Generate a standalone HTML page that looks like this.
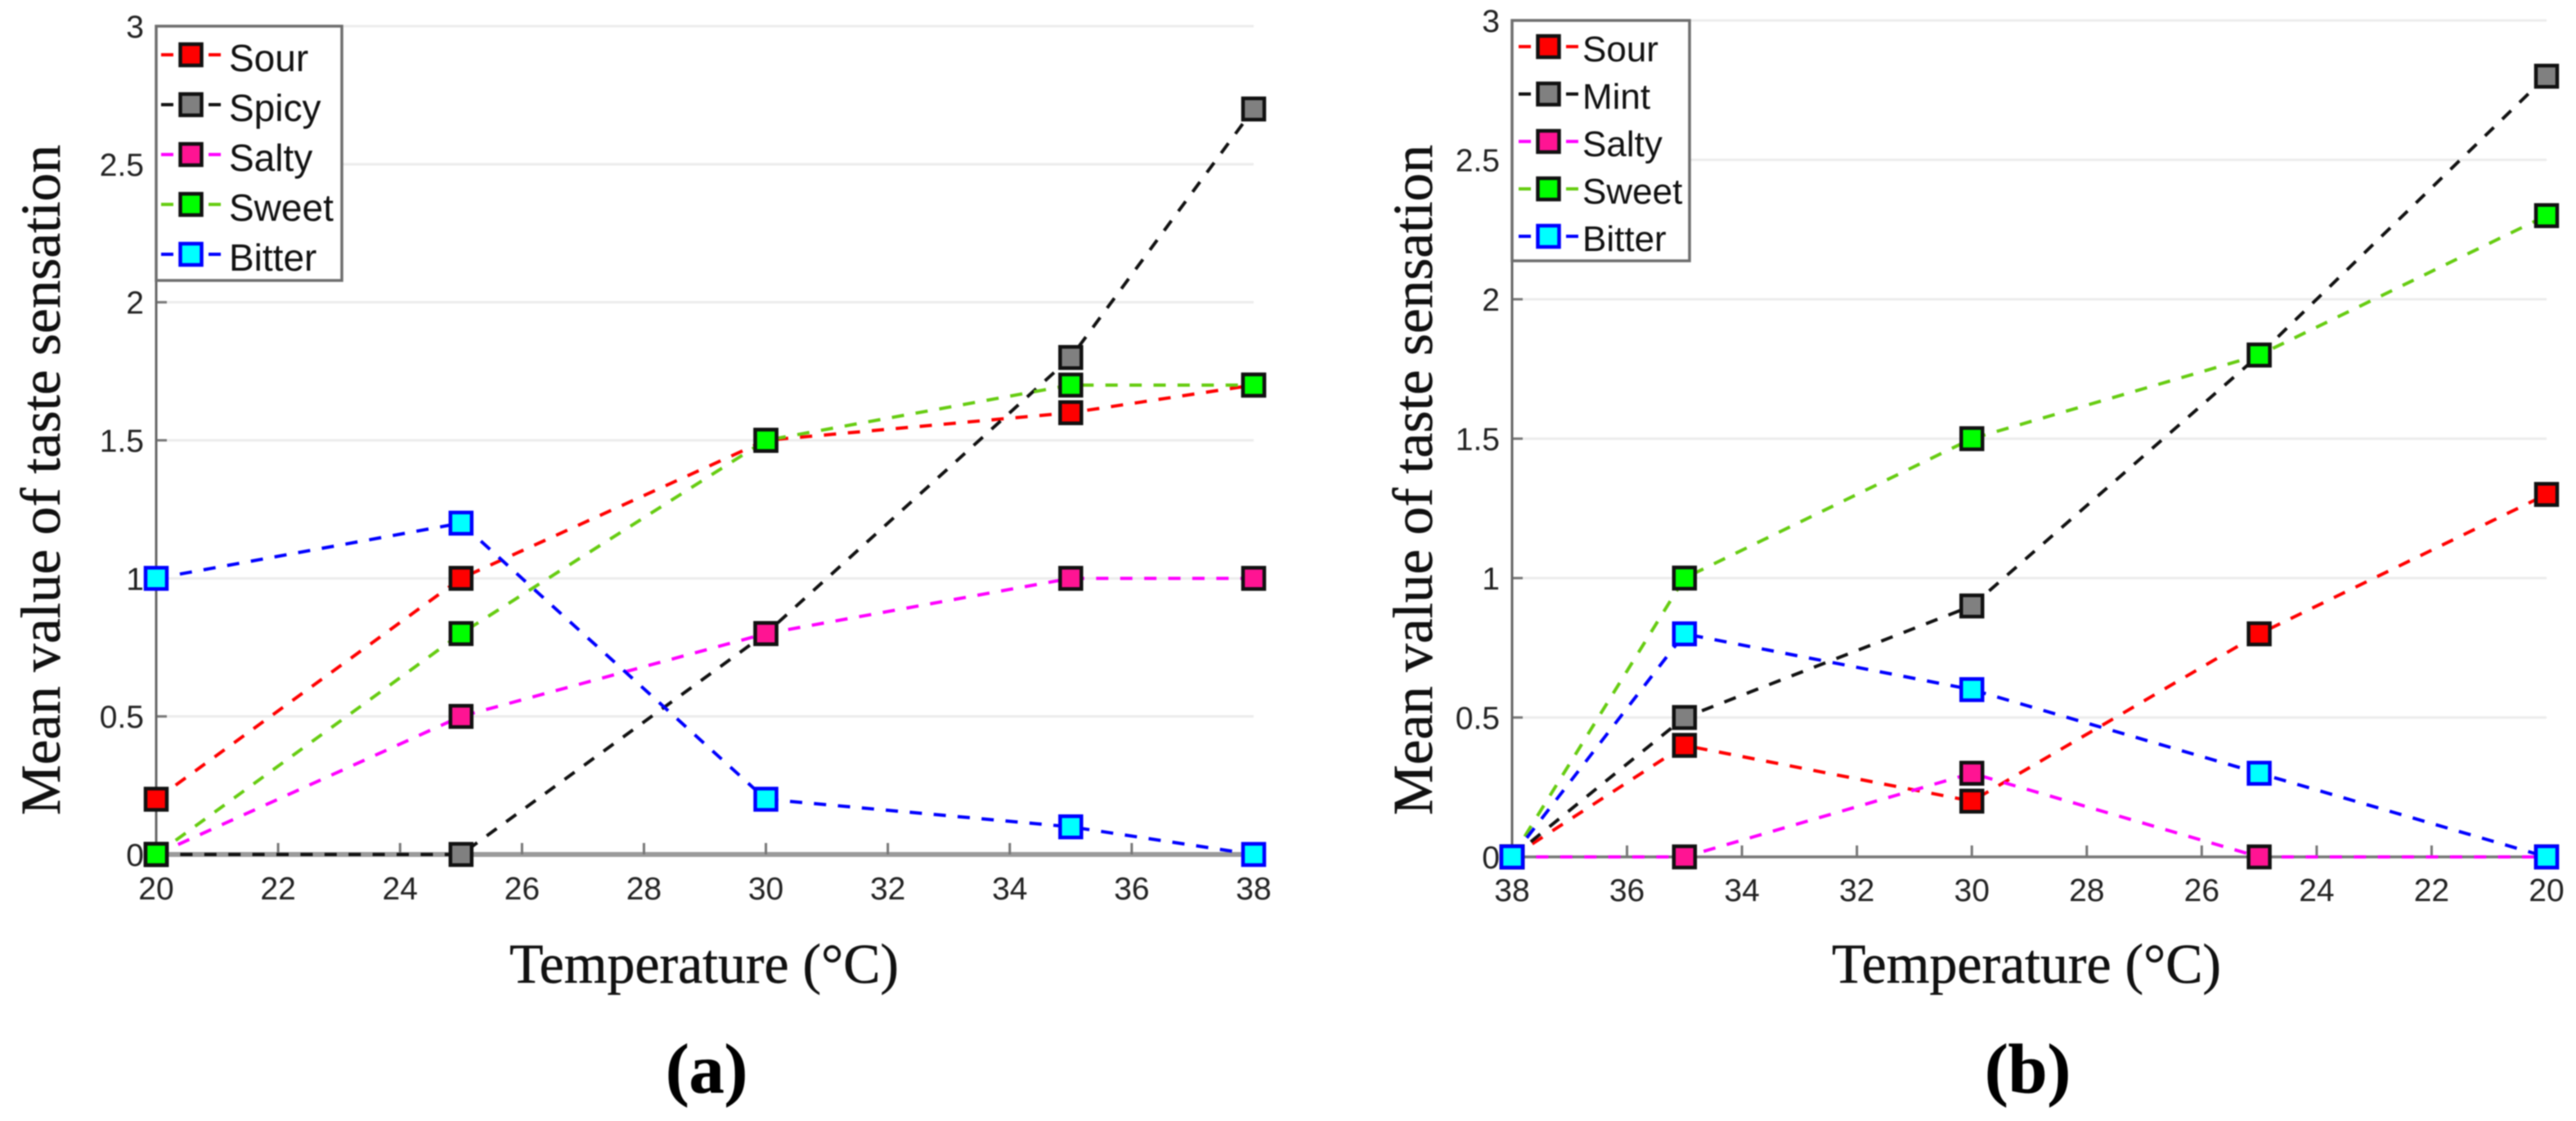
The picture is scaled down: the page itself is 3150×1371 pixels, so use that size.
<!DOCTYPE html>
<html lang="en">
<head>
<meta charset="utf-8">
<title>Mean value of taste sensation vs temperature</title>
<style>
html,body{margin:0;padding:0;background:#fff;}
body{width:3150px;height:1371px;overflow:hidden;}
svg{display:block;filter:blur(0.7px);}
.tick{font-family:"Liberation Sans",sans-serif;font-size:39px;fill:#222;}
.leg{font-family:"Liberation Sans",sans-serif;fill:#111;}
.title{font-family:"Liberation Serif",serif;font-size:69px;fill:#111;stroke:#111;stroke-width:0.5px;}
.panel{font-family:"Liberation Serif",serif;font-size:86px;font-weight:bold;fill:#000;stroke:#000;stroke-width:0.6px;}
</style>
</head>
<body>
<svg id="fig" xmlns="http://www.w3.org/2000/svg" width="3150" height="1371" viewBox="0 0 3150 1371">
  <rect x="0" y="0" width="3150" height="1371" fill="#fff"/>
  <g id="chartA"></g>
  <g id="chartB"></g>
  <text class="title" transform="translate(73,997) rotate(-90)" textLength="820" lengthAdjust="spacingAndGlyphs">Mean value of taste sensation</text>
  <text class="title" transform="translate(1751,997) rotate(-90)" textLength="820" lengthAdjust="spacingAndGlyphs">Mean value of taste sensation</text>
  <text class="title" x="623" y="1202" textLength="476" lengthAdjust="spacingAndGlyphs">Temperature (°C)</text>
  <text class="title" x="2240" y="1202" textLength="476" lengthAdjust="spacingAndGlyphs">Temperature (°C)</text>
  <text class="panel" x="814" y="1336">(a)</text>
  <text class="panel" x="2427" y="1336">(b)</text>
</svg>
<script>
// ---- data: chart (a) ----
const tempsA = [20, 25, 30, 35, 38];
const sourA = [0.2, 1, 1.5, 1.6, 1.7];
const spicyA = [0, 0, 0.8, 1.8, 2.7];
const saltyA = [0, 0.5, 0.8, 1, 1];
const sweetA = [0, 0.8, 1.5, 1.7, 1.7];
const bitterA = [1, 1.2, 0.2, 0.1, 0];
const namesA = ['Sour', 'Spicy', 'Salty', 'Sweet', 'Bitter'];
const xTickLabelsA = [20, 22, 24, 26, 28, 30, 32, 34, 36, 38];

// ---- data: chart (b) ----
const tempsB = [38, 35, 30, 25, 20];
const sourB = [0, 0.4, 0.2, 0.8, 1.3];
const mintB = [0, 0.5, 0.9, 1.8, 2.8];
const saltyB = [0, 0, 0.3, 0, 0];
const sweetB = [0, 1, 1.5, 1.8, 2.3];
const bitterB = [0, 0.8, 0.6, 0.3, 0];
const namesB = ['Sour', 'Mint', 'Salty', 'Sweet', 'Bitter'];
const xTickLabelsB = [38, 36, 34, 32, 30, 28, 26, 24, 22, 20];

// shared y ticks
const yTickValues = [0, 0.5, 1, 1.5, 2, 2.5, 3];

const SVGNS = 'http://www.w3.org/2000/svg';
const lineColors = ['#ff0000', '#111111', '#ff00ff', '#66cc11', '#0000ff'];
const fillColors = ['#ff0000', '#808080', '#ff1493', '#00ff00', '#00ffff'];
const edgeColors = ['#111111', '#111111', '#111111', '#111111', '#0000ff'];

function make(tag, attrs, parent) {
  const el = document.createElementNS(SVGNS, tag);
  for (const k in attrs) el.setAttribute(k, attrs[k]);
  parent.appendChild(el);
  return el;
}

function drawChart(root, suffix, temps, seriesList, names, xTicks, g) {
  const xScale = v => g.x0 + (v - g.xStart) / (g.xEnd - g.xStart) * (g.x1 - g.x0);
  const yScale = v => g.y0 - v / 3 * (g.y0 - g.y3);
  const xRight = Math.max(g.x0, g.x1);

  // gridlines + y ticks + y labels
  yTickValues.forEach(v => {
    const y = yScale(v);
    if (v > 0) {
      const grid = make('line', {x1: g.x0, x2: xRight, y1: y, y2: y, stroke: '#ececec', 'stroke-width': 3}, root);
      
      
      const tick = make('line', {x1: g.x0, x2: g.x0 + 13, y1: y, y2: y, stroke: '#777', 'stroke-width': 3}, root);
      
      
    }
    const label = make('text', {x: g.x0 - 15, y: y + 14, 'text-anchor': 'end', class: 'tick'}, root);
    
    
    label.textContent = String(v);
  });

  // axes
  const yAxis = make('line', {x1: g.x0, x2: g.x0, y1: g.y3, y2: g.y0, stroke: '#666', 'stroke-width': 3}, root);
  
  
  const xAxis = make('line', {x1: g.x0, x2: g.x1, y1: g.y0, y2: g.y0, stroke: g.xAxisColor, 'stroke-width': g.xAxisWidth}, root);
  
  

  // x ticks + labels
  xTicks.forEach(v => {
    const x = xScale(v);
    const tick = make('line', {x1: x, x2: x, y1: g.y0, y2: g.y0 - 14, stroke: '#777', 'stroke-width': 3}, root);
    
    
    const label = make('text', {x: x, y: g.xLabelY, 'text-anchor': 'middle', class: 'tick'}, root);
    
    
    label.textContent = String(v);
  });

  // dashed lines
  seriesList.forEach((vals, i) => {
    const pts = vals.map((v, j) => xScale(temps[j]) + ',' + yScale(v)).join(' ');
    const line = make('polyline', {points: pts, fill: 'none', stroke: lineColors[i], 'stroke-width': 4, 'stroke-dasharray': '15 14.4'}, root);
    
    
  });

  // markers
  seriesList.forEach((vals, i) => {
    vals.forEach((v, j) => {
      const m = make('rect', {x: xScale(temps[j]) - 13, y: yScale(v) - 13, width: 26, height: 26, fill: fillColors[i], stroke: edgeColors[i], 'stroke-width': 4.5}, root);
      
      
    });
  });

  // legend
  const legend = make('g', {}, root);
  
  
  const box = make('rect', {x: g.x0, y: g.y3, width: g.legW, height: g.legH, fill: '#fff', stroke: '#6e6e6e', 'stroke-width': 3.5}, legend);
  
  
  names.forEach((name, i) => {
    const y = g.y3 + g.legFirst + i * g.legStep;
    const entry = make('g', {}, legend);
    
    
    make('line', {x1: g.x0 + g.legLine0, x2: g.x0 + g.legLine0 + 15, y1: y, y2: y, stroke: lineColors[i], 'stroke-width': 4}, entry);
    make('line', {x1: g.x0 + g.legLine0 + 58, x2: g.x0 + g.legLine0 + 73, y1: y, y2: y, stroke: lineColors[i], 'stroke-width': 4}, entry);
    make('rect', {x: g.x0 + g.legLine0 + 36.5 - 13, y: y - 13, width: 26, height: 26, fill: fillColors[i], stroke: edgeColors[i], 'stroke-width': 4.5}, entry);
    const t = make('text', {x: g.x0 + g.legText, y: y + g.legBase, class: 'leg', 'font-size': g.legFont}, entry);
    t.textContent = name;
  });
}

drawChart(document.getElementById('chartA'), 'a', tempsA,
  [sourA, spicyA, saltyA, sweetA, bitterA], namesA, xTickLabelsA,
  {x0: 191, x1: 1533, xStart: 20, xEnd: 38, y0: 1045, y3: 32, xAxisColor: '#9a9a9a', xAxisWidth: 6, xLabelY: 1100,
   legW: 227, legH: 311, legFirst: 35, legStep: 61, legLine0: 6, legText: 89, legBase: 20, legFont: 46});

drawChart(document.getElementById('chartB'), 'b', tempsB,
  [sourB, mintB, saltyB, sweetB, bitterB], namesB, xTickLabelsB,
  {x0: 1849, x1: 3114, xStart: 38, xEnd: 20, y0: 1048, y3: 25, xAxisColor: '#777', xAxisWidth: 3.5, xLabelY: 1102,
   legW: 217, legH: 294, legFirst: 32, legStep: 58, legLine0: 8, legText: 86, legBase: 18, legFont: 44});
</script>
</body>
</html>
